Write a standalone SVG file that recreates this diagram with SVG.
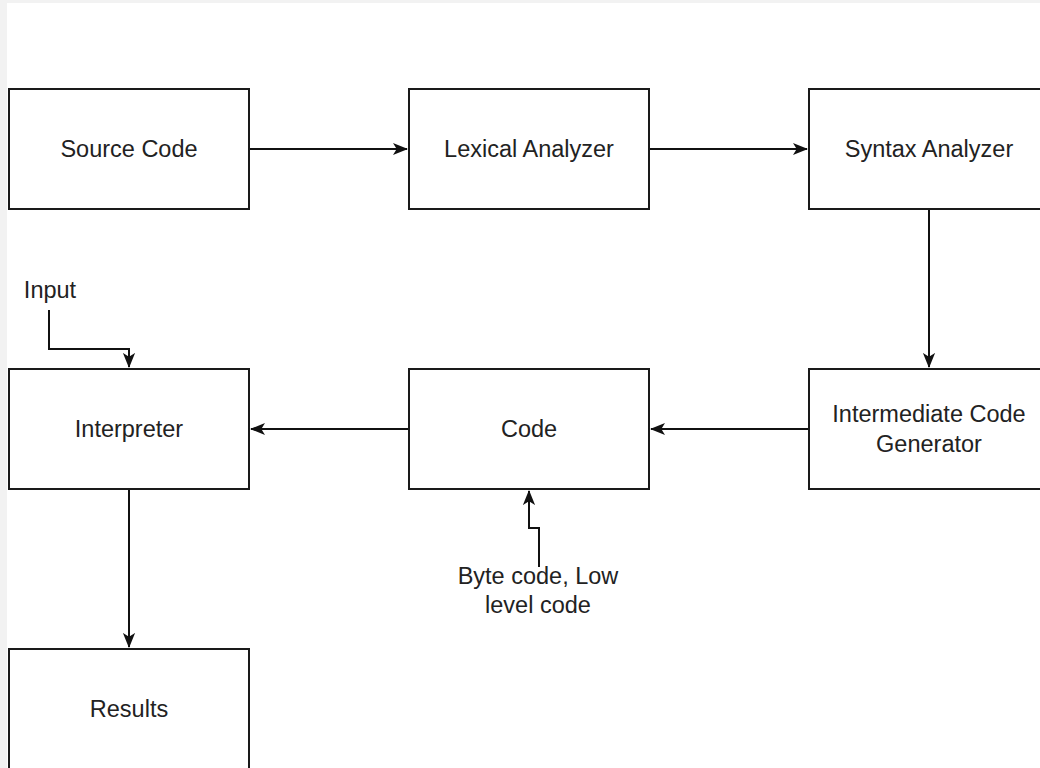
<svg xmlns="http://www.w3.org/2000/svg" width="1040" height="768" viewBox="0 0 1040 768">
<defs>
<style>
.box{fill:#ffffff;stroke:#1a1a1a;stroke-width:2}
.lbl{font-family:"Liberation Sans",Arial,sans-serif;font-size:23.5px;fill:#222;text-anchor:middle;dominant-baseline:central}
.edge{fill:none;stroke:#111;stroke-width:2}
</style>
<marker id="arr" viewBox="0 0 16 16" refX="15" refY="8" markerWidth="15" markerHeight="15" orient="auto" markerUnits="userSpaceOnUse">
<path d="M0,1.5 L16,8 L0,14.5 L4,8 Z" fill="#111"/>
</marker>
</defs>
<rect x="0" y="0" width="1040" height="768" fill="#f2f2f2"/>
<rect x="7" y="3" width="1040" height="770" fill="#ffffff"/>
<g id="connectors">
<path class="edge" d="M249,149 L407,149" marker-end="url(#arr)"/>
<path class="edge" d="M649,149 L807,149" marker-end="url(#arr)"/>
<path class="edge" d="M929,209 L929,367" marker-end="url(#arr)"/>
<path class="edge" d="M809,429 L651,429" marker-end="url(#arr)"/>
<path class="edge" d="M409,429 L251,429" marker-end="url(#arr)"/>
<path class="edge" d="M129,489 L129,647" marker-end="url(#arr)"/>
<path class="edge" d="M49,310 L49,349 L129,349 L129,367" marker-end="url(#arr)"/>
<path class="edge" d="M539,567 L539,528 L529,528 L529,491" marker-end="url(#arr)"/>
</g>
<g id="source-code"><rect class="box" x="9" y="89" width="240" height="120"/><text class="lbl" x="129" y="149">Source Code</text></g>
<g id="lexical-analyzer"><rect class="box" x="409" y="89" width="240" height="120"/><text class="lbl" x="529" y="149">Lexical Analyzer</text></g>
<g id="syntax-analyzer"><rect class="box" x="809" y="89" width="240" height="120"/><text class="lbl" x="929" y="149">Syntax Analyzer</text></g>
<g id="intermediate-code-generator"><rect class="box" x="809" y="369" width="240" height="120"/><text class="lbl" x="929" y="414">Intermediate Code</text><text class="lbl" x="929" y="444">Generator</text></g>
<g id="code"><rect class="box" x="409" y="369" width="240" height="120"/><text class="lbl" x="529" y="429">Code</text></g>
<g id="interpreter"><rect class="box" x="9" y="369" width="240" height="120"/><text class="lbl" x="129" y="429">Interpreter</text></g>
<g id="results"><rect class="box" x="9" y="649" width="240" height="130"/><text class="lbl" x="129" y="709">Results</text></g>
<g id="input-label"><text class="lbl" x="50" y="290">Input</text></g>
<g id="bytecode-label"><text class="lbl" x="538" y="576">Byte code, Low</text><text class="lbl" x="538" y="605">level code</text></g>
</svg>
